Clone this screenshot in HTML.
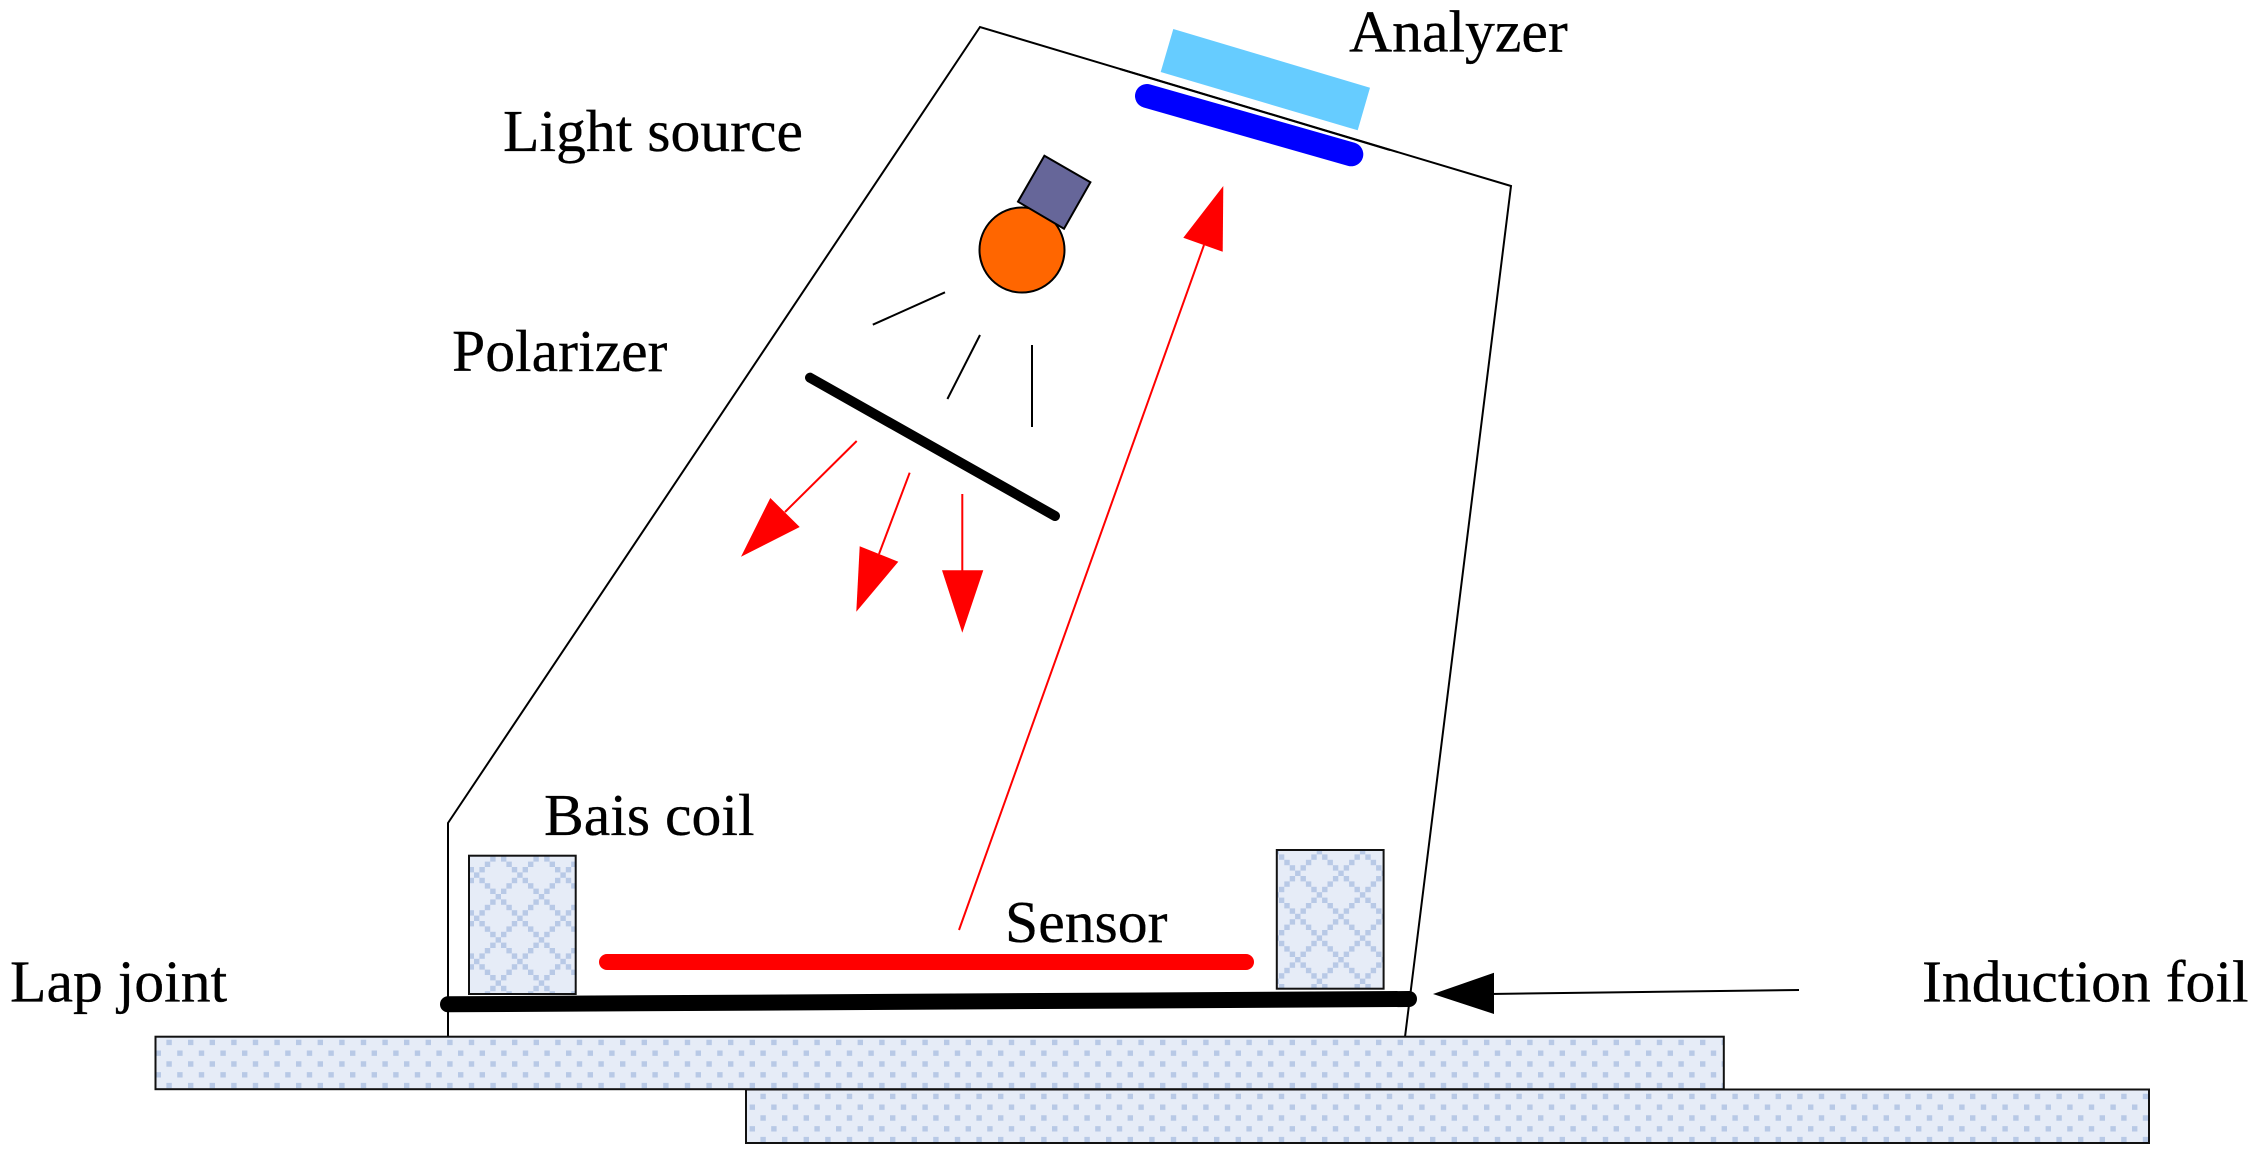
<!DOCTYPE html>
<html>
<head>
<meta charset="utf-8">
<style>
html,body{margin:0;padding:0;background:#fff;width:2258px;height:1154px;overflow:hidden}
svg{display:block}
text{font-family:"Liberation Serif",serif;font-size:59.7px;fill:#000;stroke:#000;stroke-width:.3px}
</style>
</head>
<body>
<svg width="2258" height="1154" viewBox="0 0 2258 1154" xmlns="http://www.w3.org/2000/svg">
<defs>
<g id="lat" fill="#B8C9E6">
<rect x="0" y="0" width="5.4" height="5.4"/><rect x="5.4" y="5.4" width="5.4" height="5.4"/><rect x="10.8" y="10.8" width="5.4" height="5.4"/><rect x="16.2" y="16.2" width="5.4" height="5.4"/><rect x="21.6" y="21.6" width="5.4" height="5.4"/><rect x="27" y="27" width="5.4" height="5.4"/><rect x="32.4" y="32.4" width="5.4" height="5.4"/><rect x="37.8" y="37.8" width="5.4" height="5.4"/>
<rect x="37.8" y="5.4" width="5.4" height="5.4"/><rect x="32.4" y="10.8" width="5.4" height="5.4"/><rect x="27" y="16.2" width="5.4" height="5.4"/><rect x="16.2" y="27" width="5.4" height="5.4"/><rect x="10.8" y="32.4" width="5.4" height="5.4"/><rect x="5.4" y="37.8" width="5.4" height="5.4"/>
</g>
<clipPath id="cL"><rect x="469" y="855.7" width="106.7" height="138.3"/></clipPath>
<clipPath id="cR"><rect x="1276.8" y="850" width="106.8" height="138.7"/></clipPath>
<clipPath id="p1"><rect x="155.5" y="1036.7" width="1568.3" height="52.5"/></clipPath>
<clipPath id="p2"><rect x="746" y="1089.5" width="1403" height="53.5"/></clipPath>
</defs>

<!-- housing -->
<polyline points="448,1037 448,823 980,27 1511,186 1405,1037" fill="none" stroke="#000" stroke-width="2"/>

<!-- base plate 1 -->
<rect x="155.5" y="1036.7" width="1568.3" height="52.5" fill="#E6ECF7"/>
<g clip-path="url(#p1)" stroke="#B8C9E6" stroke-width="5.4" stroke-dasharray="5.4 16.2" fill="none">
<line x1="144.8" y1="1042.4" x2="1730" y2="1042.4"/>
<line x1="155.6" y1="1053.2" x2="1730" y2="1053.2"/>
<line x1="144.8" y1="1064" x2="1730" y2="1064"/>
<line x1="155.6" y1="1074.8" x2="1730" y2="1074.8"/>
<line x1="144.8" y1="1085.6" x2="1730" y2="1085.6"/>
</g>
<rect x="155.5" y="1036.7" width="1568.3" height="52.5" fill="none" stroke="#111" stroke-width="2"/>

<!-- base plate 2 -->
<rect x="746" y="1089.5" width="1403" height="53.5" fill="#E6ECF7"/>
<g clip-path="url(#p2)" stroke="#B8C9E6" stroke-width="5.4" stroke-dasharray="5.4 16.2" fill="none">
<line x1="155.6" y1="1096.4" x2="2155" y2="1096.4"/>
<line x1="144.8" y1="1107.2" x2="2155" y2="1107.2"/>
<line x1="155.6" y1="1118" x2="2155" y2="1118"/>
<line x1="144.8" y1="1128.8" x2="2155" y2="1128.8"/>
<line x1="155.6" y1="1139.6" x2="2155" y2="1139.6"/>
</g>
<rect x="746" y="1089.5" width="1403" height="53.5" fill="none" stroke="#111" stroke-width="2"/>

<!-- left coil -->
<rect x="469" y="855.7" width="106.7" height="138.3" fill="#E6ECF7"/>
<g clip-path="url(#cL)">
<use href="#lat" x="452.4" y="850.8"/><use href="#lat" x="495.6" y="850.8"/><use href="#lat" x="538.8" y="850.8"/>
<use href="#lat" x="452.4" y="894"/><use href="#lat" x="495.6" y="894"/><use href="#lat" x="538.8" y="894"/>
<use href="#lat" x="452.4" y="937.2"/><use href="#lat" x="495.6" y="937.2"/><use href="#lat" x="538.8" y="937.2"/>
<use href="#lat" x="452.4" y="980.4"/><use href="#lat" x="495.6" y="980.4"/><use href="#lat" x="538.8" y="980.4"/>
</g>
<rect x="469" y="855.7" width="106.7" height="138.3" fill="none" stroke="#111" stroke-width="2"/>

<!-- right coil -->
<rect x="1276.8" y="850" width="106.8" height="138.7" fill="#E6ECF7"/>
<g clip-path="url(#cR)">
<use href="#lat" x="1251.9" y="827.4"/><use href="#lat" x="1295.1" y="827.4"/><use href="#lat" x="1338.3" y="827.4"/><use href="#lat" x="1381.5" y="827.4"/>
<use href="#lat" x="1251.9" y="870.6"/><use href="#lat" x="1295.1" y="870.6"/><use href="#lat" x="1338.3" y="870.6"/><use href="#lat" x="1381.5" y="870.6"/>
<use href="#lat" x="1251.9" y="913.8"/><use href="#lat" x="1295.1" y="913.8"/><use href="#lat" x="1338.3" y="913.8"/><use href="#lat" x="1381.5" y="913.8"/>
<use href="#lat" x="1251.9" y="957"/><use href="#lat" x="1295.1" y="957"/><use href="#lat" x="1338.3" y="957"/><use href="#lat" x="1381.5" y="957"/>
</g>
<rect x="1276.8" y="850" width="106.8" height="138.7" fill="none" stroke="#111" stroke-width="2"/>

<!-- foil & sensor -->
<line x1="448" y1="1004.3" x2="1409" y2="999" stroke="#000" stroke-width="16" stroke-linecap="round"/>
<line x1="607" y1="962" x2="1246" y2="962" stroke="#f00" stroke-width="16" stroke-linecap="round"/>

<!-- induction foil arrow -->
<line x1="1799" y1="990" x2="1490" y2="994" stroke="#000" stroke-width="2"/>
<polygon points="1433,994 1494,972.7 1494,1014" fill="#000"/>

<!-- analyzer -->
<polygon points="1173.3,29 1370,87.7 1357.7,130.3 1160.7,72" fill="#66CCFF"/>
<line x1="1147" y1="96" x2="1351.3" y2="154.3" stroke="#0000FF" stroke-width="24" stroke-linecap="round"/>
<line x1="1120" y1="69" x2="1390" y2="150" stroke="#000" stroke-width="2"/>

<!-- lamp -->
<circle cx="1022" cy="250" r="42.5" fill="#FF6600" stroke="#000" stroke-width="2"/>
<polygon points="1044.4,155.7 1090.4,182.3 1064,228.7 1018,201.7" fill="#666699" stroke="#000" stroke-width="2"/>

<!-- light rays -->
<line x1="945" y1="292.3" x2="872.8" y2="324.7" stroke="#000" stroke-width="2"/>
<line x1="980" y1="335" x2="947.4" y2="399" stroke="#000" stroke-width="2"/>
<line x1="1032" y1="345" x2="1032" y2="427" stroke="#000" stroke-width="2"/>

<!-- polarizer -->
<line x1="810" y1="377.7" x2="1055" y2="516" stroke="#000" stroke-width="10" stroke-linecap="round"/>

<!-- red arrows -->
<line x1="856.7" y1="441" x2="785" y2="512" stroke="#f00" stroke-width="2"/>
<polygon points="741,556.7 770.3,498 799.7,527" fill="#f00"/>
<line x1="909.7" y1="472.7" x2="879" y2="554" stroke="#f00" stroke-width="2"/>
<polygon points="856.3,611.7 859.7,546.3 898.3,561.7" fill="#f00"/>
<line x1="962.3" y1="494" x2="962.3" y2="571" stroke="#f00" stroke-width="2"/>
<polygon points="962.3,632.7 942,570.3 983.3,570.3" fill="#f00"/>
<line x1="959" y1="930" x2="1204" y2="245" stroke="#f00" stroke-width="2"/>
<polygon points="1223.3,186 1183.3,237.7 1222.7,251.7" fill="#f00"/>

<!-- labels -->
<text x="1349" y="51.5">Analyzer</text>
<text x="503" y="151">Light source</text>
<text x="452" y="371">Polarizer</text>
<text x="544" y="835">Bais coil</text>
<text x="1005" y="942">Sensor</text>
<text x="10" y="1001.5">Lap joint</text>
<text x="1922" y="1001.5">Induction foil</text>
</svg>
</body>
</html>
